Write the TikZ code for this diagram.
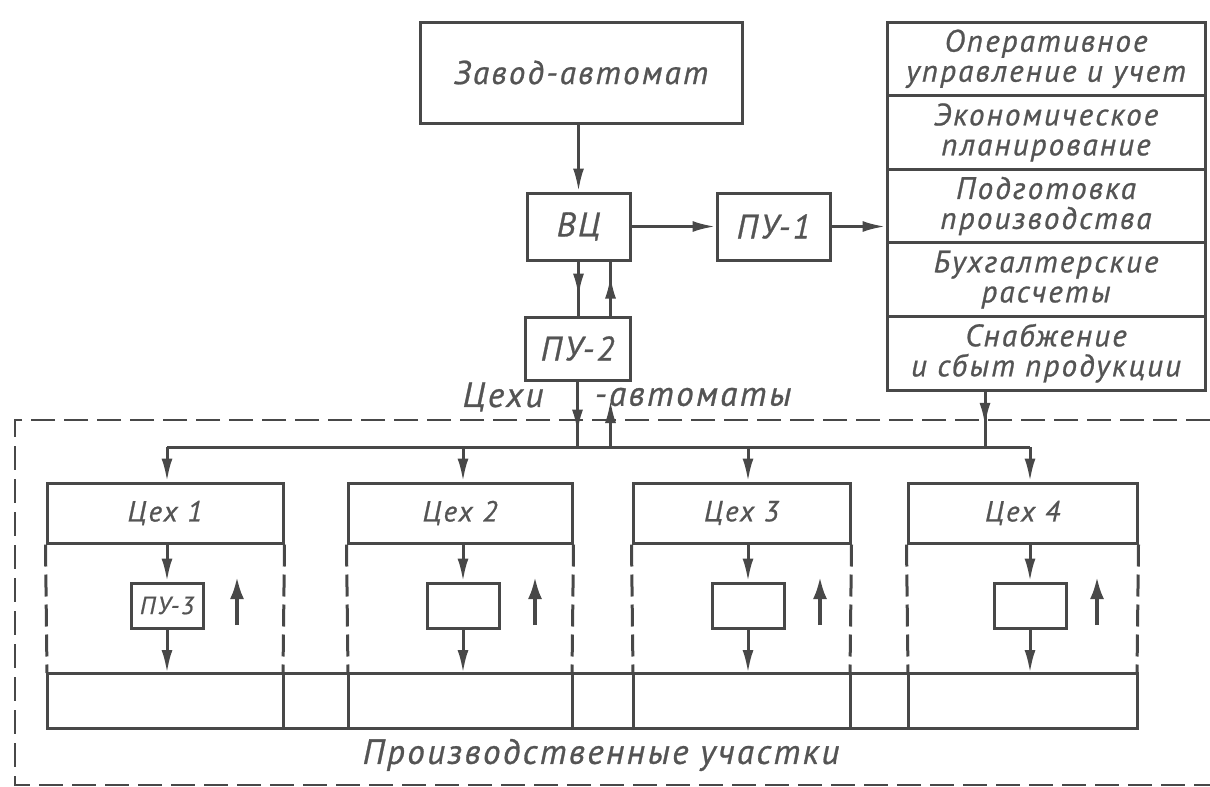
\documentclass[tikz,border=0pt]{standalone}
\usepackage{fontspec}
\setmainfont{PT Sans}[LetterSpace=7,FakeBold=0.8]
\usepackage{tikz}
\usetikzlibrary{arrows.meta,decorations.markings,calc}
\definecolor{lineg}{RGB}{72,72,72}
\definecolor{textg}{RGB}{84,84,84}
\tikzset{
  conn/.style={draw=lineg,line width=3pt},
  arr/.style={conn,-{Latex[length=23pt,width=11pt]}},
  uparr/.style={draw=lineg,line width=3.6pt,-{Latex[length=22pt,width=14pt]}},
  tipat/.style={conn,decoration={markings,
      mark=at position #1 with {\arrow{Latex[length=23pt,width=11pt]}}},
    postaction={decorate}},
  blk/.style={conn,inner sep=0pt,text=textg,
    font=\fontsize{34}{34}\selectfont\itshape},
  cell/.style={blk,minimum width=318pt,minimum height=73.6pt,align=center,
    font=\fontsize{31}{30}\selectfont\itshape},
  hdr/.style={blk,minimum height=60pt,font=\fontsize{29}{29}\selectfont\itshape},
  sbox/.style={blk,minimum width=72pt,minimum height=45pt,
    font=\fontsize{25}{25}\selectfont\itshape},
  lbl/.style={text=textg,inner sep=0pt,font=\fontsize{35}{35}\selectfont\itshape}
}
\newcommand{\tsekh}[6]{%
  % header, dashed sides, inner box and its arrows of one workshop
  \node[hdr,minimum width={(#3-#2)*1pt}] (h#1) at ({(#2+#3)/2},513) {Цех #1};
  \node[sbox] (p#1) at (#4,605.5) {#6};
  \draw[conn,dash pattern=on 22pt off 8pt] (h#1.south west) -- (#2,673);
  \draw[conn,dash pattern=on 22pt off 8pt] (h#1.south east) -- (#3,673);
  \draw[conn] (#2,673) -- (#2,728) (#3,673) -- (#3,728);
  \draw[arr] (bus -| p#1) -- (p#1 |- h#1.north);
  \draw[arr] (p#1 |- h#1.south) -- (p#1);
  \draw[arr] (p#1.south) -- (p#1 |- band);
  \draw[uparr] (#5,625) -- (#5,577);
}

\begin{document}
\begin{tikzpicture}[x=1pt,y=-1pt]
  \useasboundingbox (0,0) rectangle (1210,787);
  \coordinate (bus) at (0,447);
  \coordinate (band) at (0,673);
  \coordinate (colx) at (985,0);
  \coordinate (upend) at (610.5,400);

  \node[blk,minimum width=322pt,minimum height=101pt,
    font=\fontsize{33}{33}\selectfont\itshape] (zavod) at (581,72.5) {Завод-автомат};
  \node[blk,minimum width=103pt,minimum height=67pt] (vc) at (578.5,226.5) {ВЦ};
  \node[blk,minimum width=113pt,minimum height=67pt] (pu1) at (773.5,226.5) {ПУ-1};
  \node[blk,minimum width=105pt,minimum height=63pt] (pu2) at (577.5,348.5) {ПУ-2};
  \foreach \t [count=\i] in {{Оперативное\\управление и учет},
      {Экономическое\\планирование},{Подготовка\\производства},
      {Бухгалтерские\\расчеты},{Снабжение\\и сбыт продукции}}
    \node[cell] (op\i) at (1046,{58.8+(\i-1)*73.6}) {\t};
  \coordinate (vcR) at ([xshift=32pt]vc.south);

  \draw[arr] (vc |- zavod.south) -- (vc);
  \draw[arr] (vc) -- (pu1);
  \draw[arr] (pu1) -- (pu1 -| op3.west);
  \draw[tipat=0.65] (vc.south) -- (vc.south |- pu2.north);
  \draw[tipat=0.74] (vcR |- pu2.north) -- (vcR);
  \draw[tipat=0.78] (pu2.south) -- (pu2.south |- bus);
  \draw[arr] (vcR |- bus) -- (upend);
  \draw[tipat=0.62] (op5.south -| colx) -- (colx |- bus);

  % outer frame of the shops
  \draw[draw=lineg,line width=2.4pt,dash pattern=on 24pt off 9pt]
    (1210,420) -- (15,420) -- (15,785) -- (1210,785);
  \node[lbl] (cexi1) at (503,397) {Цехи};
  \node[lbl] (cexi2) at (693,397) {-автоматы};
  \node[lbl] (uch) at (601,755) {Производственные участки};

  \draw[conn] (47,673) rectangle (1137,728);
  \tsekh{1}{47}{283}{167}{237}{ПУ-3}
  \tsekh{2}{348}{572}{463}{535}{}
  \tsekh{3}{633}{850}{748}{820}{}
  \tsekh{4}{908}{1137}{1030}{1097}{}
  \draw[conn] (p1 |- bus) -- (p4 |- bus);
\end{tikzpicture}
\end{document}
